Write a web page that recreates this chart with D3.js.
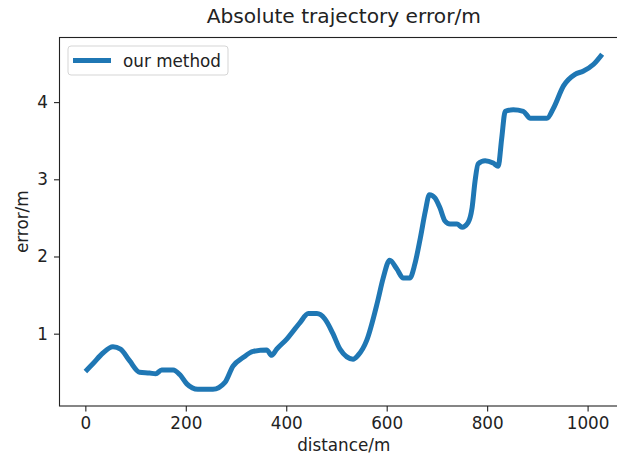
<!DOCTYPE html>
<html>
<head>
  <meta charset="utf-8">
  <script src="https://cdn.jsdelivr.net/npm/d3@7"></script>
  <style>
    body { margin: 0; background: #fff; }
    svg { display: block; font-family: "DejaVu Sans", sans-serif; }
  </style>
</head>
<body>
<script>
  // values
  var distance = [0, 15, 35, 55, 70, 88, 108, 128, 140, 152, 175, 188, 202, 224, 254, 278,
    294, 314, 334, 361, 371, 381, 401, 427, 444, 461, 477, 493, 507, 533, 543, 560,
    582, 593, 606, 620, 633, 646, 656, 667, 677, 685, 696, 706, 716, 726, 740, 750,
    762, 770, 776, 782, 796, 812, 822, 829, 836, 852, 872, 886, 919, 932, 952, 975,
    991, 1012, 1029];
  var error = [0.51, 0.61, 0.75, 0.83, 0.80, 0.65, 0.50, 0.49, 0.48, 0.53, 0.53, 0.47, 0.35, 0.28, 0.28, 0.37,
    0.58, 0.69, 0.77, 0.79, 0.72, 0.80, 0.93, 1.14, 1.26, 1.26, 1.19, 1.00, 0.80, 0.67, 0.72, 0.91,
    1.42, 1.72, 1.95, 1.84, 1.72, 1.72, 1.90, 2.24, 2.59, 2.80, 2.76, 2.63, 2.46, 2.42, 2.42, 2.38,
    2.44, 2.63, 2.98, 3.20, 3.24, 3.21, 3.17, 3.53, 3.88, 3.90, 3.88, 3.79, 3.79, 3.92, 4.21, 4.36,
    4.40, 4.49, 4.62];
  var xTicks = [0, 200, 400, 600, 800, 1000];
  var yTicks = [1, 2, 3, 4];
  var seriesName = "our method";

  var W = 617, H = 459;
  // plot box (the right spine falls outside the picture, as in the reference)
  var pLeft = 59.5, pRight = 628, pTop = 37.5, pBottom = 406;
  var fs = 16.8;
  var blue = "#1f77b4";

  var data = distance.map(function(d, i) { return { d: d, e: error[i] }; });

  // matplotlib style 5% margins
  function pad(ext) {
    var m = (ext[1] - ext[0]) * 0.05;
    return [ext[0] - m, ext[1] + m];
  }
  var x = d3.scaleLinear().domain(pad(d3.extent(distance))).range([pLeft, pRight]);
  var y = d3.scaleLinear().domain(pad(d3.extent(error))).range([pBottom, pTop]);

  var svg = d3.select("body").append("svg")
    .attr("width", W)
    .attr("height", H);

  // line
  var line = d3.line()
    .curve(d3.curveMonotoneX)
    .x(function(p) { return x(p.d); })
    .y(function(p) { return y(p.e); });

  svg.append("path")
    .datum(data)
    .attr("d", line)
    .attr("fill", "none")
    .attr("stroke", blue)
    .attr("stroke-width", 5)
    .attr("stroke-linejoin", "round")
    .attr("stroke-linecap", "butt");

  // spines
  svg.append("rect")
    .attr("x", pLeft).attr("y", pTop)
    .attr("width", pRight - pLeft).attr("height", pBottom - pTop)
    .attr("fill", "none")
    .attr("stroke", "#222")
    .attr("stroke-width", 1.1);

  // axes
  var xAxis = d3.axisBottom(x).tickValues(xTicks).tickSize(5.5).tickPadding(6).tickFormat(d3.format("d"));
  var gx = svg.append("g").attr("transform", "translate(0," + pBottom + ")").call(xAxis);
  gx.select(".domain").remove();

  var yAxis = d3.axisLeft(y).tickValues(yTicks).tickSize(5.5).tickPadding(6).tickFormat(d3.format("d"));
  var gy = svg.append("g").attr("transform", "translate(" + pLeft + ",0)").call(yAxis);
  gy.select(".domain").remove();

  svg.selectAll(".tick line").attr("stroke", "#222").attr("stroke-width", 1.1);
  svg.selectAll(".tick text")
    .attr("fill", "#222")
    .style("font-size", fs + "px")
    .style("font-family", "DejaVu Sans, sans-serif");

  // title and axis labels
  var cx = (pLeft + pRight) / 2;
  svg.append("text")
    .attr("x", cx).attr("y", 23)
    .attr("text-anchor", "middle")
    .attr("fill", "#222")
    .style("font-size", (fs * 1.2) + "px")
    .text("Absolute trajectory error/m");

  svg.append("text")
    .attr("x", cx).attr("y", 451)
    .attr("text-anchor", "middle")
    .attr("fill", "#222")
    .style("font-size", fs + "px")
    .text("distance/m");

  svg.append("text")
    .attr("transform", "translate(28," + ((pTop + pBottom) / 2) + ") rotate(-90)")
    .attr("text-anchor", "middle")
    .attr("fill", "#222")
    .style("font-size", fs + "px")
    .text("error/m");

  // legend
  var lg = svg.append("g").attr("transform", "translate(68,46)");
  lg.append("rect")
    .attr("width", 160).attr("height", 29)
    .attr("rx", 3)
    .attr("fill", "#fff").attr("fill-opacity", 0.8)
    .attr("stroke", "#d5d5d5");
  lg.append("line")
    .attr("x1", 5).attr("x2", 43)
    .attr("y1", 14.5).attr("y2", 14.5)
    .attr("stroke", blue)
    .attr("stroke-width", 5);
  lg.append("text")
    .attr("x", 55).attr("y", 20.5)
    .attr("fill", "#222")
    .style("font-size", fs + "px")
    .text(seriesName);
</script>
</body>
</html>
